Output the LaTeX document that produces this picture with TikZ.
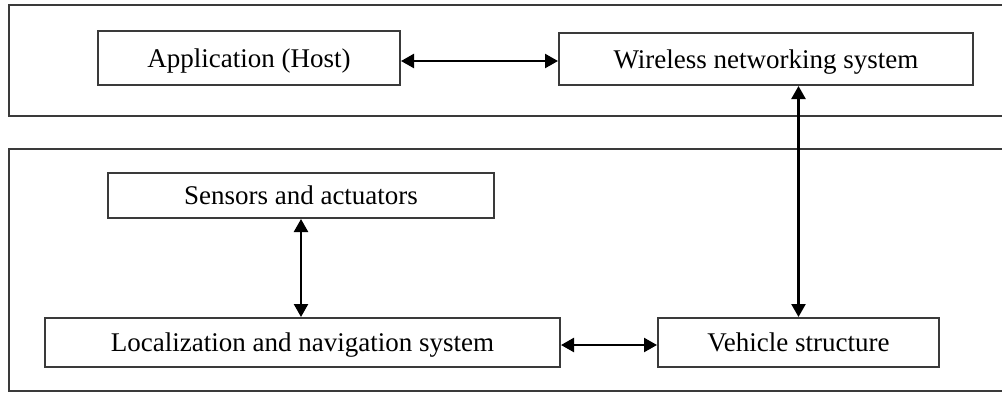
\documentclass[tikz,border=0pt]{standalone}
\usepackage{fontspec}
\setmainfont{Liberation Serif}
\usetikzlibrary{arrows.meta, positioning}
\definecolor{boxGray}{HTML}{3A3A3A}

\begin{document}
\begin{tikzpicture}[x=0.5pt, y=-0.5pt,
    blk/.style={draw=boxGray, line width=1pt, fill=white, inner sep=0pt,
      text height=11pt, text depth=2pt,
      font=\fontsize{13.5}{16}\selectfont},
    link/.style={line width=1.2pt, {Triangle[length=6.5pt,width=7pt]}-{Triangle[length=6.5pt,width=7pt]}}]
    \useasboundingbox (0,0) rectangle (1002,392);
    % the two layers, open at the right edge
    \draw[boxGray, line width=1pt] (1010,5) -- (9,5) -- (9,116) -- (1010,116);
    \draw[boxGray, line width=1pt] (1010,149) -- (9,149) -- (9,391) -- (1010,391);
    % blocks
    \node[blk, minimum width=151pt, minimum height=27pt] (app) at (249,58) {Application (Host)};
    \node[blk, minimum width=207pt, minimum height=26pt] (wless) at (766,59) {Wireless networking system};
    \node[blk, minimum width=193pt, minimum height=22.5pt] (sensor) at (301,195.5) {Sensors and actuators};
    \node[blk, minimum width=257.5pt, minimum height=24.5pt] (loc) at (302.5,342.5) {Localization and navigation system};
    \node[blk, minimum width=140.5pt, minimum height=24.5pt] (vehicle) at (798.5,342.5) {Vehicle structure};
    % links
    \draw[link] ([yshift=-1.5pt]app.east) -- ([yshift=-1.5pt]app.east -| wless.west);
    \draw[link] (vehicle.north) -- (vehicle.north |- wless.south);
    \draw[link] (sensor.south) -- (loc.north -| sensor.south);
    \draw[link] ([yshift=-1.25pt]loc.east) -- ([yshift=-1.25pt]loc.east -| vehicle.west);
\end{tikzpicture}
\end{document}
